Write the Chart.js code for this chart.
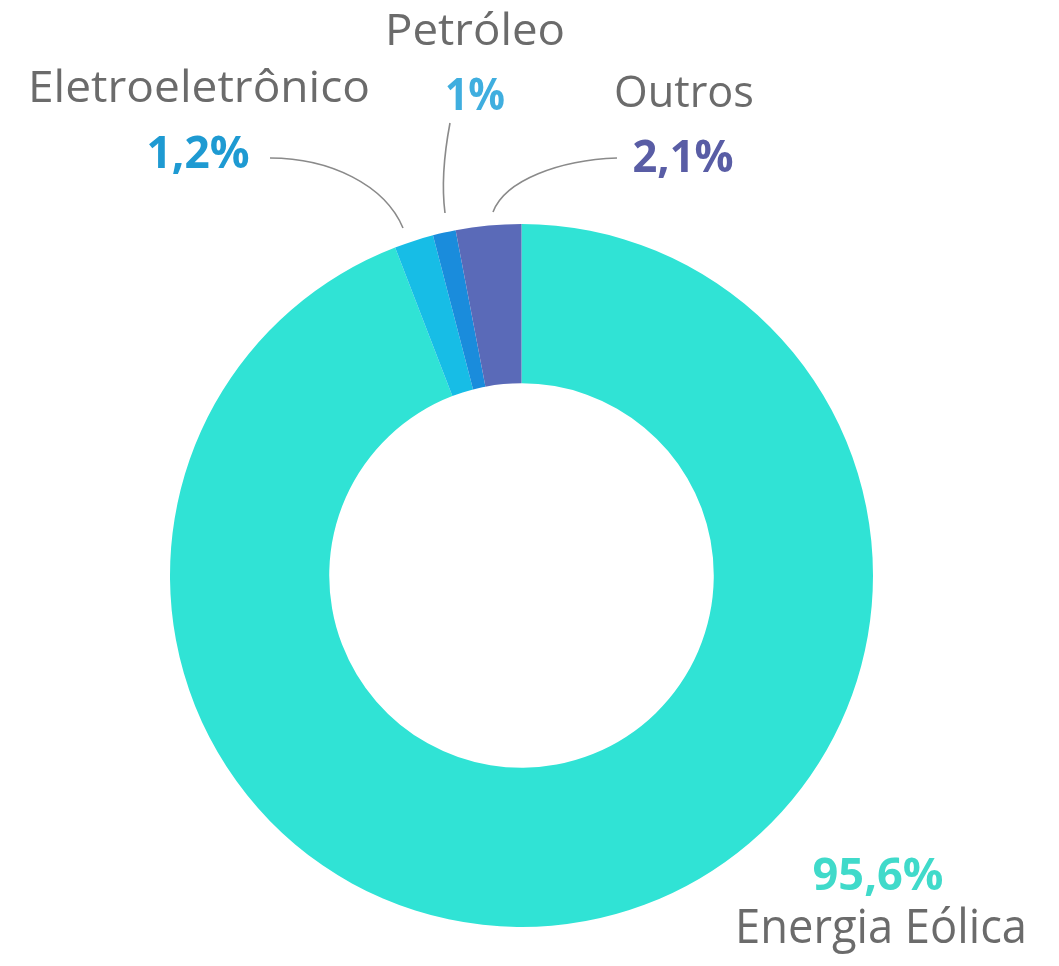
<!DOCTYPE html>
<html>
<head>
<meta charset="utf-8">
<script src="https://cdn.jsdelivr.net/npm/chart.js@4"></script>
<style>
html,body{margin:0;padding:0;background:#fff;}
#wrap{width:1059px;height:966px;position:relative;}
</style>
</head>
<body>
<div id="wrap"><canvas id="c" width="1059" height="966"></canvas></div>
<script>
// Data (slice sizes estimated from the drawn ring; labels as printed)
const categories = ["Energia Eólica", "Eletroeletrônico", "Petróleo", "Outros"];
const values = [94.1, 1.8, 1.05, 3.0];
const valueLabels = ["95,6%", "1,2%", "1%", "2,1%"];
const sliceColors = ["#30E3D5", "#17BDE6", "#1A8CDC", "#5A6AB8"];
const percentColors = ["#40DACA", "#1E9AD2", "#3FAEDF", "#595DA5"];

// label layout: name center x / baseline / width / font size, pct center x / baseline / width
const labelLayout = {
  "Energia Eólica":   {nx: 881, ny: 943, nw: 292, ns: 47, px: 878, py: 890, pw: 131},
  "Eletroeletrônico": {nx: 199, ny: 102, nw: 342, ns: 44, px: 198, py: 168, pw: 103},
  "Petróleo":         {nx: 475, ny: 45,  nw: 180, ns: 44, px: 475, py: 110, pw: 60},
  "Outros":           {nx: 684, ny: 107, nw: 140, ns: 44, px: 683, py: 172, pw: 101}
};
const leaders = {
  "Eletroeletrônico": {sx: 270, sy: 158, c1x: 330, c1y: 158, c2x: 385, c2y: 185, ex: 403, ey: 228},
  "Petróleo":         {sx: 450, sy: 123, c1x: 443, c1y: 160, c2x: 442, c2y: 190, ex: 445, ey: 213},
  "Outros":           {sx: 617, sy: 158, c1x: 560, c1y: 160, c2x: 505, c2y: 180, ex: 493, ey: 212}
};

function fitText(ctx, text, cx, baseline, width, font, color) {
  ctx.save();
  ctx.font = font;
  ctx.fillStyle = color;
  ctx.textBaseline = 'alphabetic';
  ctx.textAlign = 'left';
  const w = ctx.measureText(text).width;
  const s = width / w;
  ctx.translate(cx - width / 2, baseline);
  ctx.scale(s, 1);
  ctx.fillText(text, 0, 0);
  ctx.restore();
}

const labelPlugin = {
  id: 'labelPlugin',
  afterDraw(chart) {
    const ctx = chart.ctx;
    ctx.save();
    ctx.strokeStyle = '#8a8a8a';
    ctx.lineWidth = 1.6;
    Object.keys(leaders).forEach(k => {
      const l = leaders[k];
      ctx.beginPath();
      ctx.moveTo(l.sx, l.sy);
      ctx.bezierCurveTo(l.c1x, l.c1y, l.c2x, l.c2y, l.ex, l.ey);
      ctx.stroke();
    });
    ctx.restore();
    categories.forEach((cat, i) => {
      const L = labelLayout[cat];
      fitText(ctx, cat, L.nx, L.ny, L.nw, L.ns + 'px "Open Sans"', '#6b6b6b');
      fitText(ctx, valueLabels[i], L.px, L.py, L.pw, 'bold 45px "Open Sans"', percentColors[i]);
    });
  }
};

new Chart(document.getElementById('c'), {
  type: 'doughnut',
  data: {
    labels: categories,
    datasets: [{
      data: values,
      backgroundColor: sliceColors,
      borderWidth: 0,
      hoverOffset: 0
    }]
  },
  options: {
    responsive: false,
    animation: false,
    cutout: '54.7%',
    rotation: 0,
    layout: { padding: { left: 170, right: 186, top: 224, bottom: 39 } },
    plugins: {
      legend: { display: false },
      tooltip: { enabled: false }
    }
  },
  plugins: [labelPlugin]
});
</script>
</body>
</html>
